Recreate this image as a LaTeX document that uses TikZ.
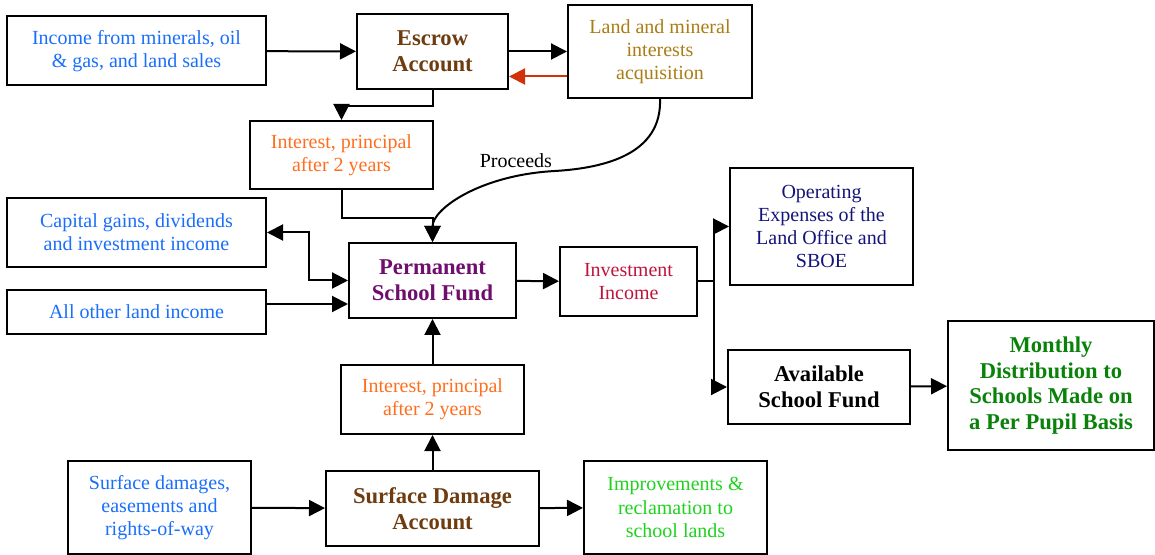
\documentclass[tikz,border=0pt]{standalone}
\usepackage{fontspec}
\setmainfont{Liberation Serif}
\usepackage{xcolor}
\usetikzlibrary{arrows.meta}
\definecolor{srcblue}{RGB}{25,110,250}
\definecolor{acctbrown}{RGB}{110,60,15}
\definecolor{landgold}{RGB}{170,125,20}
\definecolor{intorange}{RGB}{255,110,30}
\definecolor{fundpurple}{RGB}{110,15,110}
\definecolor{investred}{RGB}{190,20,60}
\definecolor{opnavy}{RGB}{20,20,120}
\definecolor{distgreen}{RGB}{10,130,10}
\definecolor{impgreen}{RGB}{30,210,30}
\definecolor{arrowred}{RGB}{210,50,10}

\begin{document}
\begin{tikzpicture}[x=0.5pt, y=-0.5pt, >={Triangle[length=8pt,width=8pt]},
  box/.style={draw, line width=1pt, align=center, inner sep=2pt,
    font=\fontsize{10}{11.6}\selectfont},
  boldbox/.style={box, font=\fontsize{11.3}{12.8}\selectfont\bfseries},
  flow/.style={->, line width=1pt}]
  \useasboundingbox (0,0) rectangle (1155,555);
  % Sources and escrow
  \node[box, text=srcblue, minimum width=129.5pt, minimum height=34.5pt] (income) at (136.5,51)
    {Income from minerals, oil\\\& gas, and land sales};
  \node[boldbox, text=acctbrown, minimum width=75.5pt, minimum height=37.5pt] (escrow) at (432.5,51.5)
    {Escrow\\Account};
  \node[box, text=landgold, minimum width=92pt, minimum height=46.5pt] (land) at (660,51.5)
    {Land and mineral\\interests\\acquisition};
  \node[box, text=intorange, minimum width=91.5pt, minimum height=34pt] (interestA) at (341.5,155)
    {Interest, principal\\after 2 years};
  % Permanent School Fund and its inputs
  \node[box, text=srcblue, minimum width=129.5pt, minimum height=34.5pt] (capital) at (136.5,232.5)
    {Capital gains, dividends\\and investment income};
  \node[boldbox, text=fundpurple, minimum width=83.5pt, minimum height=37.5pt] (psf) at (432.5,280.5)
    {Permanent\\School Fund};
  \node[box, text=investred, minimum width=68.5pt, minimum height=34.5pt] (invest) at (628.5,281.5)
    {Investment\\Income};
  \node[box, text=srcblue, minimum width=129.5pt, minimum height=22pt] (allother) at (136.5,312)
    {All other land income};
  % Outputs
  \node[box, text=opnavy, minimum width=91.5pt, minimum height=58.5pt] (operating) at (821.5,226.5)
    {Operating\\Expenses of the\\Land Office and\\SBOE};
  \node[boldbox, minimum width=91pt, minimum height=37pt] (available) at (819,387)
    {Available\\School Fund};
  \node[boldbox, text=distgreen, minimum width=103pt, minimum height=64.5pt] (monthly) at (1051,385.5)
    {Monthly\\Distribution to\\Schools Made on\\a Per Pupil Basis};
  % Surface damage branch
  \node[box, text=intorange, minimum width=91.5pt, minimum height=34.5pt] (interestB) at (432.5,399.5)
    {Interest, principal\\after 2 years};
  \node[box, text=srcblue, minimum width=91.5pt, minimum height=46.5pt] (surfacein) at (159.5,507.5)
    {Surface damages,\\easements and\\rights-of-way};
  \node[boldbox, text=acctbrown, minimum width=106.5pt, minimum height=37.5pt] (surface) at (432.5,508.5)
    {Surface Damage\\Account};
  \node[box, text=impgreen, minimum width=91.5pt, minimum height=46.5pt] (improve) at (675.5,507.5)
    {Improvements \&\\reclamation to\\school lands};

  % Connectors
  \draw[flow] (income) -- (escrow);
  \draw[flow] (escrow) -- (land);
  \draw[flow, arrowred] ([yshift=-12.5pt]land.west) -- ([yshift=-12.5pt]land.west -| escrow.east);
  \draw[flow] (escrow.south) -- ++(0,16) -| (interestA.north);
  \draw[flow] (interestA.south) -- ++(0,28) -| (psf.north);
  \coordinate (bend) at (555,171);
  \draw[flow] (land.south) .. controls +(2,55) and +(50,-3) .. (bend)
    node[anchor=south east, inner sep=1pt, font=\fontsize{10}{11.6}\selectfont] (proceeds) {Proceeds}
    .. controls +(-75,4) and +(0,-33) .. (psf.north);
  \draw[<->, line width=1pt] (capital.east) -- ++(42,0) |- (psf.west);
  \draw[flow] ([yshift=4pt]allother.east) -- ([yshift=4pt]allother.east -| psf.west);
  \draw[flow] (psf) -- (invest);
  \draw[line width=1pt] (invest.east) -- ++(16,0) coordinate (split);
  \draw[flow] (split) |- (operating.west);
  \draw[flow] (split) |- (available.west);
  \draw[flow] (available) -- (monthly);
  \draw[flow] (interestB) -- (psf);
  \draw[flow] (surface) -- (interestB);
  \draw[flow] (surfacein) -- (surface);
  \draw[flow] (surface) -- (improve);
\end{tikzpicture}
\end{document}
